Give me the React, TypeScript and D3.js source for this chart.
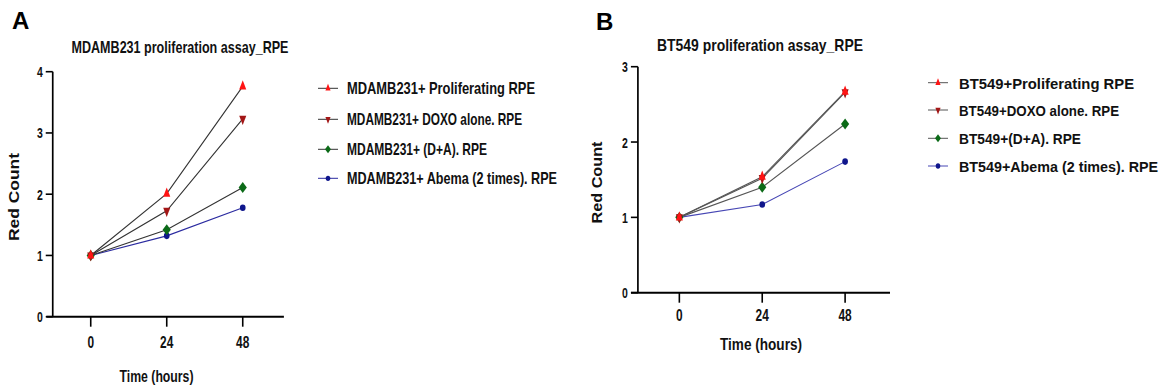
import React, { useLayoutEffect, useRef, useState } from 'react'
import * as d3 from 'd3'

// time points (hours) and tick values
const hours = [0, 24, 48]
const xTickValues = [0, 24, 48]
const xDomain = [-14, 61]
const yAxisAtHour = -12

// panel A: MDAMB231
const mdaLabels = [
    'MDAMB231+ Proliferating RPE',
    'MDAMB231+ DOXO alone. RPE',
    'MDAMB231+ (D+A). RPE',
    'MDAMB231+ Abema (2 times). RPE',
]
const mdaProliferating = [1.0, 2.01, 3.76]
const mdaDoxo = [1.0, 1.73, 3.23]
const mdaDA = [1.0, 1.42, 2.11]
const mdaAbema = [1.0, 1.32, 1.78]
const mdaYTicks = [0, 1, 2, 3, 4]

// panel B: BT549
const btLabels = [
    'BT549+Proliferating RPE',
    'BT549+DOXO alone. RPE',
    'BT549+(D+A). RPE',
    'BT549+Abema (2 times). RPE',
]
const btProliferating = [1.0, 1.54, 2.67]
const btDoxo = [1.0, 1.52, 2.66]
const btDA = [1.0, 1.4, 2.24]
const btAbema = [1.0, 1.17, 1.74]
const btYTicks = [0, 1, 2, 3]

const FONT = "'Liberation Sans', Arial, sans-serif"

// marker style per series (same order as the label arrays)
const markerTypes = ['triangle', 'triangleDown', 'diamond', 'circle']
const markerColors = ['#ff1414', '#a31616', '#0b6a17', '#0f168c']

function markerPath(type, size) {
    if (type === 'circle') return d3.symbol().type(d3.symbolCircle).size(size)()
    if (type === 'diamond') return d3.symbol().type(d3.symbolDiamond).size(size)()
    return d3.symbol().type(d3.symbolTriangle).size(size)()
}

function markerTransform(type, cx, cy) {
    if (type === 'triangleDown') return `translate(${cx},${cy}) rotate(180) scale(0.8,1.2)`
    if (type === 'triangle') return `translate(${cx},${cy}) scale(0.8,1.2)`
    if (type === 'diamond') return `translate(${cx},${cy}) scale(1.3,1)`
    return `translate(${cx},${cy}) scale(0.95,1.1)`
}

function Marker({ type, color, cx, cy, size }) {
    return <path d={markerPath(type, size)} transform={markerTransform(type, cx, cy)} fill={color} />
}

// squeezes the text horizontally so it covers `width` px (the original is a condensed font)
function FitText({ x, y, width, fontSize, anchor = 'start', rotate = 0, children }) {
    const ref = useRef(null)
    const [s, setS] = useState(0.8)
    useLayoutEffect(() => {
        const n = ref.current.getComputedTextLength()
        if (n > 0) setS(width / n)
    }, [width, children, fontSize])
    return (
        <text ref={ref} transform={`translate(${x},${y}) rotate(${rotate}) scale(${s},1)`}
            fontSize={fontSize} textAnchor={anchor}>{children}</text>
    )
}

function Panel({ cfg, series, labels, yTicks }) {
    const x = d3.scaleLinear().domain(xDomain).range(cfg.xRange)
    const y = d3.scaleLinear().domain([0, yTicks[yTicks.length - 1]]).range(cfg.yRange)
    const line = d3
        .line()
        .x((d) => x(d[0]))
        .y((d) => y(d[1]))
    const axisX = x(yAxisAtHour)
    const axisY = y(0)
    const order = [3, 2, 1, 0] // proliferating drawn on top

    return (
        <g fontFamily={FONT} fontWeight="bold" fill="#111">
            <text x={cfg.letterX} y={cfg.letterY} fontSize="24" fill="#000">{cfg.letter}</text>
            <FitText x={cfg.titleX} y={cfg.titleY} fontSize={16.5} anchor="middle" width={cfg.titleW}>{cfg.title}</FitText>

            {/* y axis */}
            <line x1={axisX} x2={axisX} y1={y(yTicks[yTicks.length - 1])} y2={axisY} stroke="#000" strokeWidth="1.7" />
            {yTicks.map((t) => (
                <g key={t}>
                    <line x1={axisX - 7} x2={axisX} y1={y(t)} y2={y(t)} stroke="#000" strokeWidth="1.6" />
                    <text transform={`translate(${axisX - 10},${y(t) + 5.5}) scale(0.7,1)`} fontSize="15" textAnchor="end">{t}</text>
                </g>
            ))}
            <FitText x={cfg.yLabelX} y={cfg.yLabelY} rotate={-90} fontSize={14} anchor="middle" width={cfg.yLabelW}>Red Count</FitText>

            {/* x axis */}
            <line x1={x(xDomain[0])} x2={x(xDomain[1])} y1={axisY} y2={axisY} stroke="#000" strokeWidth="2" />
            {xTickValues.map((t) => (
                <g key={t}>
                    <line x1={x(t)} x2={x(t)} y1={axisY} y2={axisY + 10} stroke="#000" strokeWidth="1.6" />
                    <text transform={`translate(${x(t)},${axisY + cfg.xTickDy}) scale(0.7,1)`} fontSize="17" textAnchor="middle">{t}</text>
                </g>
            ))}
            <FitText x={cfg.xLabelX} y={cfg.xLabelY} fontSize={16.5} anchor="middle" width={cfg.xLabelW}>Time (hours)</FitText>

            {/* series */}
            {order.map((i) => (
                <path key={'l' + i} d={line(hours.map((h, j) => [h, series[i][j]]))}
                    fill="none" stroke={cfg.lineColors[i]} strokeWidth="1.1" />
            ))}
            {order.map((i) => (
                <g key={'m' + i}>
                    {hours.map((h, j) => (
                        <Marker key={j} type={markerTypes[i]} color={markerColors[i]}
                            cx={x(h)} cy={y(series[i][j])} size={markerTypes[i] === 'circle' ? 28 : 34} />
                    ))}
                </g>
            ))}

            {/* legend */}
            {labels.map((lab, i) => {
                const ly = cfg.legendY[i]
                return (
                    <g key={lab}>
                        <line x1={cfg.legendX - cfg.legendLine[0]} x2={cfg.legendX - cfg.legendLine[1]} y1={ly} y2={ly}
                            stroke={cfg.lineColors[i]} strokeWidth="1" />
                        <Marker type={markerTypes[i]} color={markerColors[i]}
                            cx={cfg.legendX - (cfg.legendLine[0] + cfg.legendLine[1]) / 2} cy={ly} size={18} />
                        <FitText x={cfg.legendX} y={ly + 6} fontSize={cfg.legendFont} width={cfg.legendW[i]}>{lab}</FitText>
                    </g>
                )
            })}
        </g>
    )
}

const panelA = {
    letter: 'A', letterX: 12, letterY: 29,
    title: 'MDAMB231  proliferation assay_RPE', titleX: 180, titleY: 53, titleW: 217,
    xRange: [46.4, 283.9], yRange: [316.7, 71.7],
    yLabelX: 18.5, yLabelY: 197, yLabelW: 88,
    xTickDy: 31.5, xLabelX: 156.5, xLabelY: 382, xLabelW: 74,
    lineColors: ['#333', '#333', '#333', '#2b2ba0'],
    legendX: 347, legendLine: [29, 9], legendY: [88.3, 119.3, 149.3, 178.3],
    legendW: [188, 175, 140, 210], legendFont: 16,
}

const panelB = {
    letter: 'B', letterX: 596, letterY: 30,
    title: 'BT549  proliferation assay_RPE', titleX: 760, titleY: 51, titleW: 206,
    xRange: [631, 890], yRange: [292.7, 66.7],
    yLabelX: 601.5, yLabelY: 182.5, yLabelW: 82,
    xTickDy: 28.5, xLabelX: 761, xLabelY: 350, xLabelW: 82,
    lineColors: ['#555', '#555', '#555', '#4646b4'],
    legendX: 959, legendLine: [31, 11], legendY: [82.7, 110, 138.3, 166],
    legendW: [175, 160, 122, 199], legendFont: 15.5,
}

export default function App() {
    return (
        <svg width={1164} height={389} style={{ position: 'absolute', left: 0, top: 0, background: '#fff' }}>
            <rect width={1164} height={389} fill="#fff" />
            <Panel cfg={panelA} labels={mdaLabels} yTicks={mdaYTicks}
                series={[mdaProliferating, mdaDoxo, mdaDA, mdaAbema]} />
            <Panel cfg={panelB} labels={btLabels} yTicks={btYTicks}
                series={[btProliferating, btDoxo, btDA, btAbema]} />
        </svg>
    )
}
